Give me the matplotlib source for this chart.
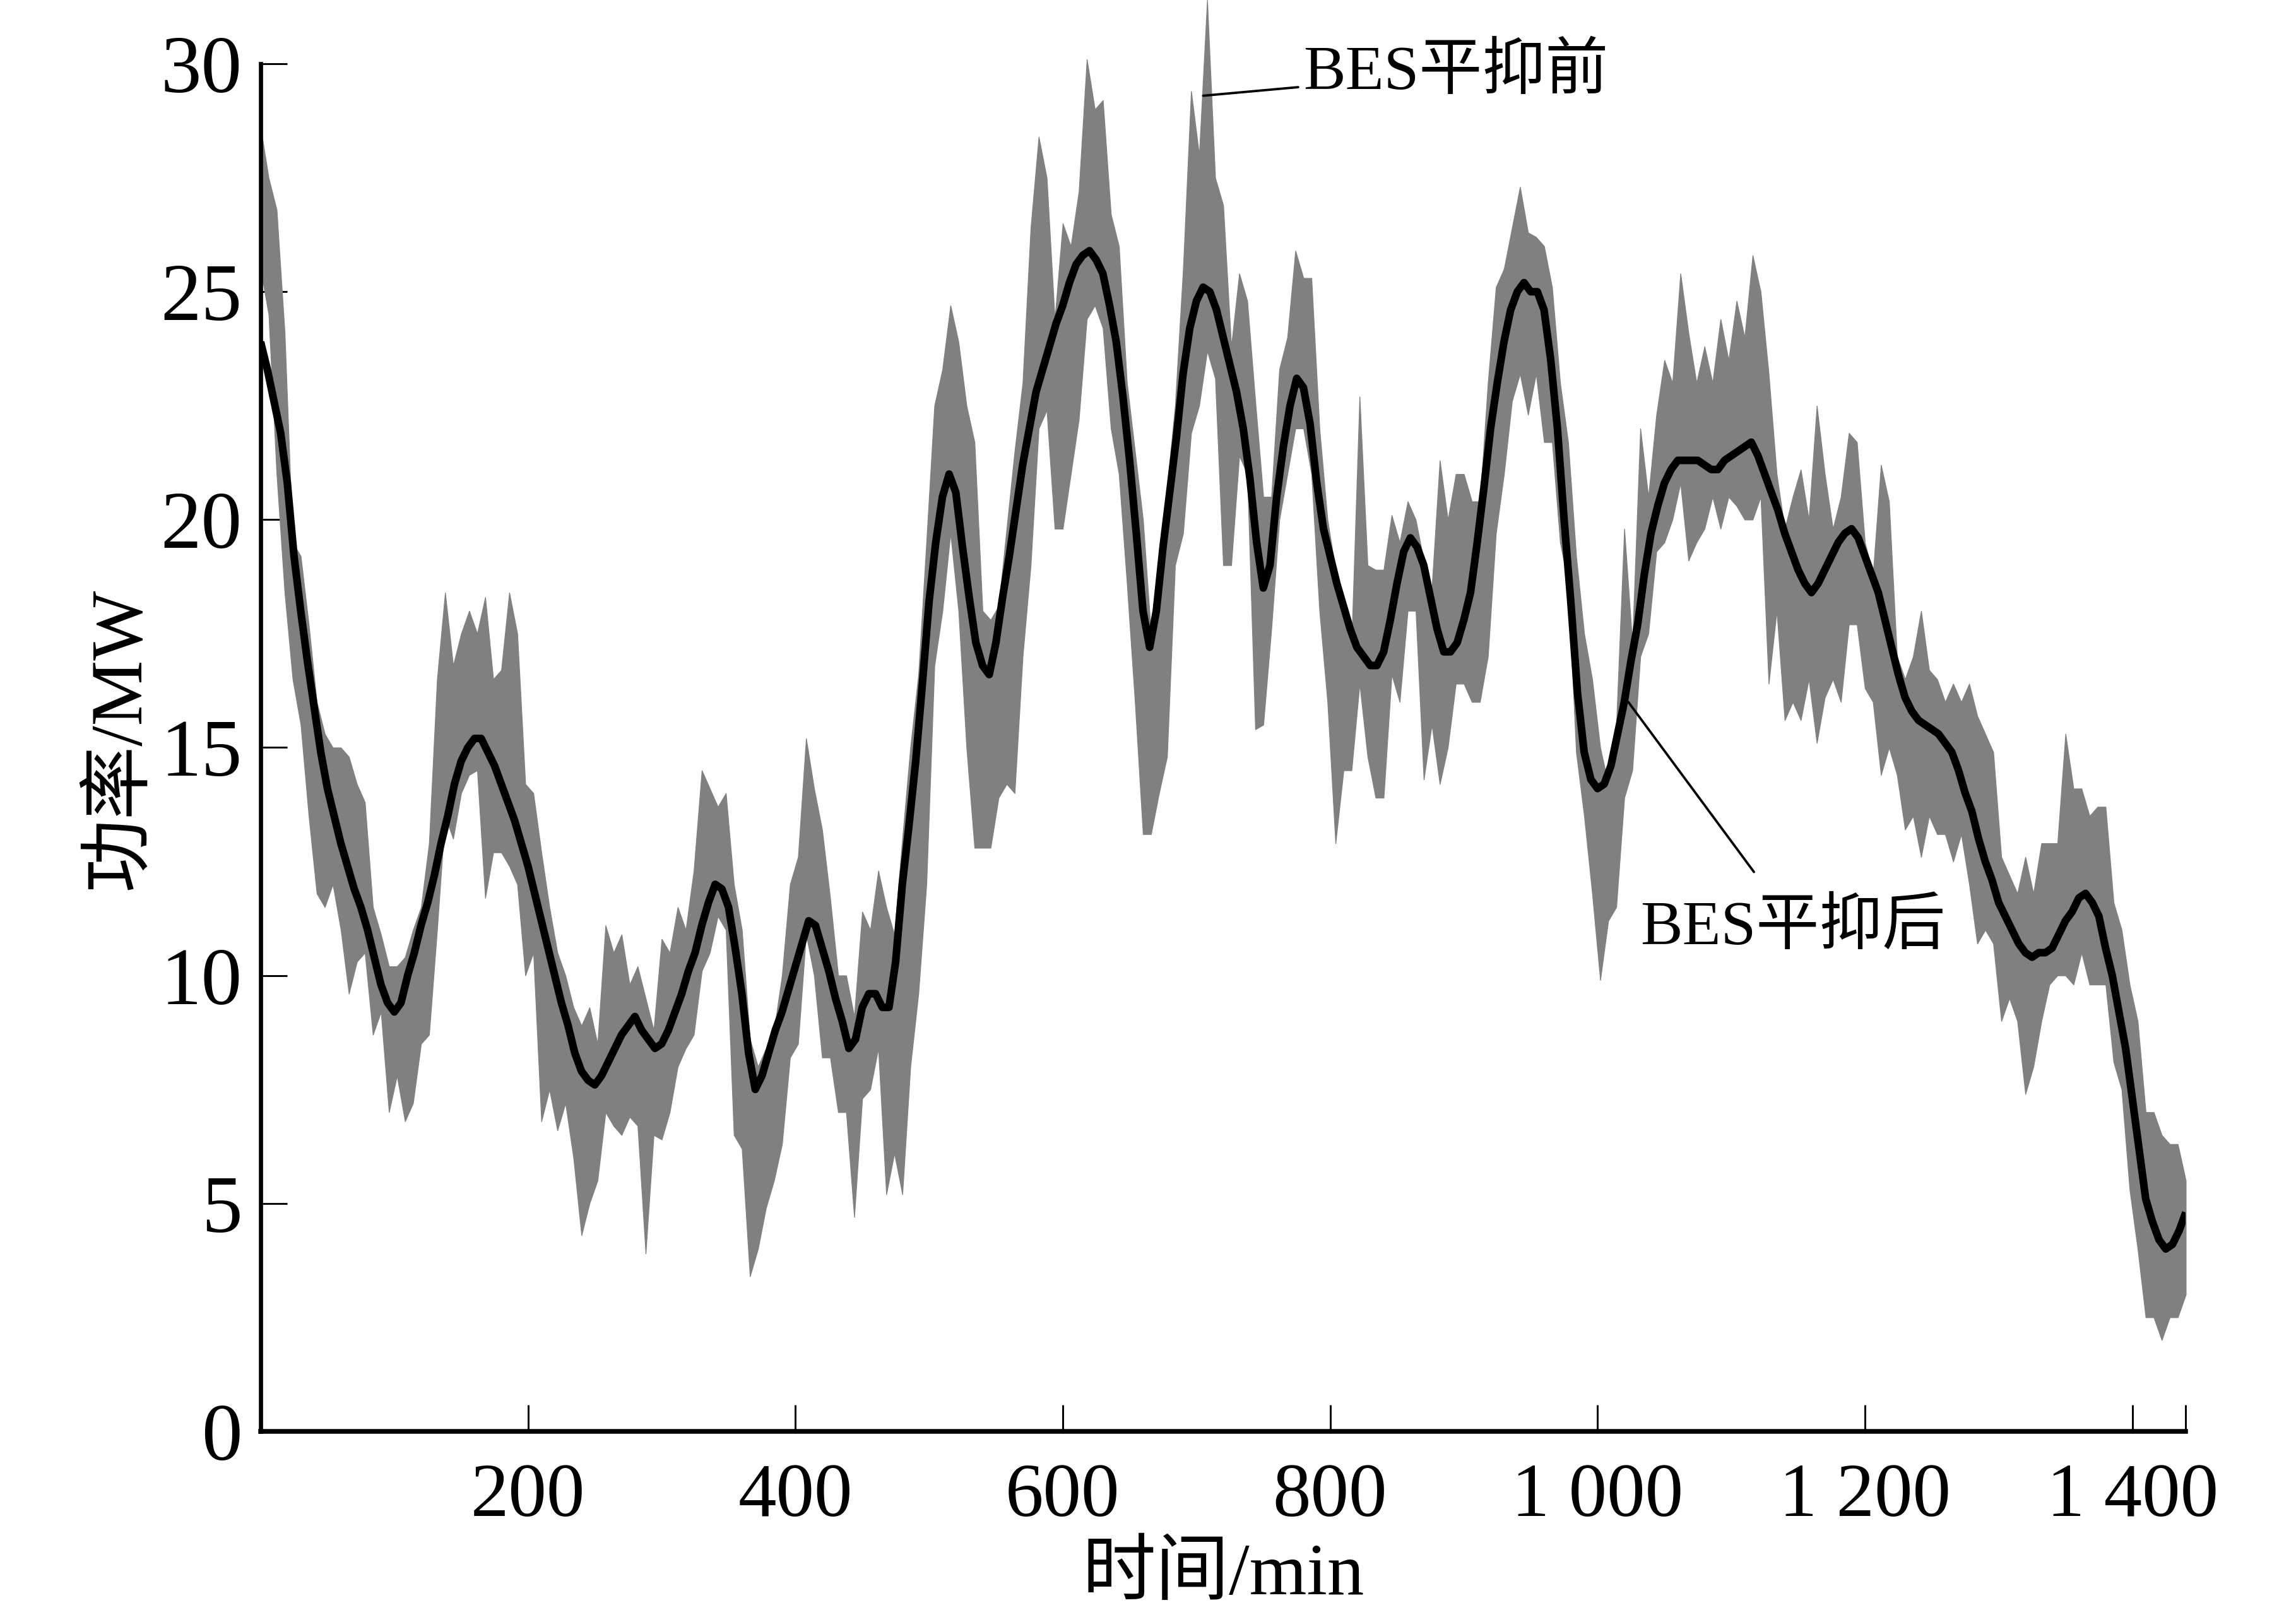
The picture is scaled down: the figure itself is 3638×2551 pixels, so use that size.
import matplotlib
matplotlib.use("Agg")
import matplotlib.pyplot as plt
import numpy as np

plt.rcParams['font.family'] = ['Liberation Serif', 'Noto Sans CJK SC']

# raw power before smoothing: upper / lower edge of the noisy band, every 6 min
raw_upper = [
    28.6, 27.5, 26.8, 24.1, 19.5, 19.2, 17.7, 16.0, 15.3, 15.0,
    15.0, 14.8, 14.2, 13.8, 11.5, 10.9, 10.2, 10.2, 10.4, 11.0,
    11.5, 12.9, 16.5, 18.4, 16.8, 17.5, 18.0, 17.5, 18.3, 16.5,
    16.7, 18.4, 17.5, 14.2, 14.0, 12.7, 11.5, 10.5, 10.0, 9.3,
    8.9, 9.3, 8.5, 11.1, 10.5, 10.9, 9.8, 10.2, 9.5, 8.8,
    10.8, 10.5, 11.5, 11.0, 12.3, 14.5, 14.1, 13.7, 14.0, 12.0,
    11.0, 8.6, 8.0, 8.4, 8.8, 10.0, 12.0, 12.6, 15.2, 14.1,
    13.2, 11.7, 10.0, 10.0, 9.1, 11.4, 11.0, 12.3, 11.5, 10.9,
    13.0, 15.0, 16.6, 19.5, 22.5, 23.3, 24.7, 23.9, 22.5, 21.7,
    18.0, 17.8, 18.1, 19.8, 21.5, 23.0, 26.4, 28.4, 27.5, 24.4,
    26.5, 26.0, 27.2, 30.1, 29.0, 29.2, 26.7, 26.0, 23.0, 21.5,
    20.0, 17.5, 19.0, 20.7, 22.5, 25.5, 29.4, 28.0, 31.4, 27.5,
    26.9, 23.8, 25.4, 24.8, 22.6, 20.5, 20.5, 23.3, 24.0, 25.9,
    25.3, 25.3, 22.0, 20.0, 18.9, 18.2, 17.3, 22.7, 19.0, 18.9,
    18.9, 20.1, 19.5, 20.4, 20.0, 19.1, 18.5, 21.3, 20.0, 21.0,
    21.0, 20.4, 20.4, 23.0, 25.1, 25.5, 26.4, 27.3, 26.3, 26.2,
    26.0, 25.1, 23.0, 21.7, 19.2, 17.5, 16.5, 15.0, 14.2, 15.5,
    19.8, 17.3, 22.0, 20.5, 22.3, 23.5, 23.0, 25.4, 24.1, 23.0,
    23.8, 23.0, 24.4, 23.5, 24.8, 24.0, 25.8, 25.0, 23.2, 21.0,
    19.8, 20.5, 21.1, 20.0, 22.5, 21.0, 19.8, 20.5, 21.9, 21.7,
    19.5, 18.8, 21.2, 20.4, 17.0, 16.5, 17.0, 18.0, 16.7, 16.5,
    16.0, 16.4, 16.0, 16.4, 15.7, 15.3, 14.9, 12.6, 12.2, 11.8,
    12.6, 11.8, 12.9, 12.9, 12.9, 15.3, 14.1, 14.1, 13.5, 13.7,
    13.7, 11.6, 11.0, 9.8, 9.0, 7.0, 7.0, 6.5, 6.3, 6.3, 5.5,
]
raw_lower = [
    25.5, 24.5, 21.0, 18.4, 16.5, 15.5, 13.5, 11.8, 11.5, 12.0,
    11.0, 9.6, 10.3, 10.5, 8.7, 9.2, 7.0, 7.8, 6.8, 7.2,
    8.5, 8.7, 11.0, 13.5, 13.0, 14.0, 14.4, 14.5, 11.7, 12.7,
    12.7, 12.4, 12.0, 10.0, 10.5, 6.8, 7.5, 6.6, 7.2, 6.0,
    4.3, 5.0, 5.5, 7.0, 6.7, 6.5, 6.9, 6.7, 3.9, 6.5,
    6.4, 7.0, 8.0, 8.4, 8.7, 10.1, 10.5, 11.3, 11.0, 6.5,
    6.2, 3.4, 4.0, 4.9, 5.5, 6.3, 8.2, 8.5, 10.9, 10.0,
    8.2, 8.2, 7.0, 7.0, 4.7, 7.3, 7.5, 8.4, 5.2, 6.1,
    5.2, 8.0, 9.6, 12.0, 16.8, 18.0, 19.7, 18.0, 15.0, 12.8,
    12.8, 12.8, 13.9, 14.2, 14.0, 17.0, 19.0, 22.0, 22.4, 19.8,
    19.8, 21.0, 22.2, 24.4, 24.7, 24.2, 22.0, 21.0, 18.6, 16.0,
    13.1, 13.1, 14.0, 14.8, 19.0, 19.7, 21.9, 22.5, 23.7, 23.1,
    19.0, 19.0, 21.4, 21.0, 15.4, 15.5, 17.6, 20.0, 21.0, 22.0,
    22.0, 21.0, 18.0, 16.0, 12.9, 14.5, 14.5, 16.4, 14.8, 13.9,
    13.9, 16.6, 16.0, 18.0, 18.0, 14.3, 15.5, 14.2, 15.0, 16.4,
    16.4, 16.0, 16.0, 17.0, 19.7, 21.0, 22.6, 23.2, 22.3, 23.2,
    21.7, 21.7, 19.5, 18.6, 14.9, 13.5, 11.8, 9.9, 11.2, 11.5,
    13.9, 14.5, 17.0, 17.5, 19.3, 19.5, 20.0, 20.8, 19.1, 19.5,
    19.8, 20.5, 19.8, 20.5, 20.3, 20.0, 20.0, 20.5, 16.4, 18.0,
    15.6, 16.0, 15.6, 16.5, 15.1, 16.1, 16.5, 16.0, 17.7, 17.7,
    16.3, 16.0, 14.4, 15.0, 14.4, 13.2, 13.5, 12.6, 13.5, 13.1,
    13.1, 12.5, 13.1, 12.0, 10.7, 11.0, 10.7, 9.0, 9.5, 9.0,
    7.4, 8.0, 9.0, 9.8, 10.0, 10.0, 9.8, 10.5, 9.8, 9.8,
    9.8, 8.1, 7.5, 5.3, 4.0, 2.5, 2.5, 2.0, 2.5, 2.5, 3.0,
]
# power after BES smoothing, every 5 min
smooth_power = [
    23.9, 23.3, 22.6, 21.9, 20.8, 19.2, 18.0, 16.9, 15.9, 14.9, 14.1, 13.5,
    12.9, 12.4, 11.9, 11.5, 11.0, 10.4, 9.8, 9.4, 9.2, 9.4, 10.0, 10.5,
    11.1, 11.6, 12.2, 12.9, 13.5, 14.2, 14.7, 15.0, 15.2, 15.2, 14.9, 14.6,
    14.2, 13.8, 13.4, 12.9, 12.4, 11.8, 11.2, 10.6, 10.0, 9.4, 8.9, 8.3,
    7.9, 7.7, 7.6, 7.8, 8.1, 8.4, 8.7, 8.9, 9.1, 8.8, 8.6, 8.4,
    8.5, 8.8, 9.2, 9.6, 10.1, 10.5, 11.1, 11.6, 12.0, 11.9, 11.5, 10.6,
    9.6, 8.3, 7.5, 7.8, 8.3, 8.8, 9.2, 9.7, 10.2, 10.7, 11.2, 11.1,
    10.6, 10.1, 9.5, 9.0, 8.4, 8.6, 9.3, 9.6, 9.6, 9.3, 9.3, 10.3,
    12.0, 13.3, 14.7, 16.4, 18.2, 19.5, 20.5, 21.0, 20.6, 19.4, 18.3, 17.3,
    16.8, 16.6, 17.3, 18.3, 19.2, 20.2, 21.2, 22.0, 22.8, 23.3, 23.8, 24.3,
    24.7, 25.2, 25.6, 25.8, 25.9, 25.7, 25.4, 24.7, 23.9, 22.7, 21.3, 19.7,
    18.0, 17.2, 18.0, 19.4, 20.6, 21.8, 23.2, 24.2, 24.8, 25.1, 25.0, 24.6,
    24.0, 23.4, 22.8, 22.0, 20.9, 19.5, 18.5, 19.0, 20.5, 21.6, 22.5, 23.1,
    22.9, 22.1, 20.8, 19.8, 19.2, 18.6, 18.1, 17.6, 17.2, 17.0, 16.8, 16.8,
    17.1, 17.8, 18.6, 19.3, 19.6, 19.4, 19.0, 18.3, 17.6, 17.1, 17.1, 17.3,
    17.8, 18.4, 19.5, 20.7, 22.0, 23.0, 23.9, 24.6, 25.0, 25.2, 25.0, 25.0,
    24.6, 23.5, 22.0, 20.0, 18.2, 16.2, 14.9, 14.3, 14.1, 14.2, 14.6, 15.3,
    16.0, 16.9, 17.7, 18.8, 19.7, 20.3, 20.8, 21.1, 21.3, 21.3, 21.3, 21.3,
    21.2, 21.1, 21.1, 21.3, 21.4, 21.5, 21.6, 21.7, 21.4, 21.0, 20.6, 20.2,
    19.7, 19.3, 18.9, 18.6, 18.4, 18.6, 18.9, 19.2, 19.5, 19.7, 19.8, 19.6,
    19.2, 18.8, 18.4, 17.8, 17.2, 16.6, 16.1, 15.8, 15.6, 15.5, 15.4, 15.3,
    15.1, 14.9, 14.5, 14.0, 13.6, 13.0, 12.5, 12.1, 11.6, 11.3, 11.0, 10.7,
    10.5, 10.4, 10.5, 10.5, 10.6, 10.9, 11.2, 11.4, 11.7, 11.8, 11.6, 11.3,
    10.6, 10.0, 9.2, 8.4, 7.3, 6.2, 5.1, 4.6, 4.2, 4.0, 4.1, 4.4,
    4.8,
]
raw_minutes = np.arange(0, 1441, 6)
smooth_minutes = np.arange(0, 1441, 5)

x_ticks = [200, 400, 600, 800, 1000, 1200, 1400]
x_tick_labels = ['200', '400', '600', '800', '1 000', '1 200', '1 400']
y_ticks = [0, 5, 10, 15, 20, 25, 30]

fig = plt.figure(figsize=(3638 / 300, 2551 / 300), dpi=300)
ax = fig.add_axes([0.1135, 0.111, 0.8385, 0.889])

ax.fill_between(raw_minutes, raw_lower, raw_upper, color='#808080', lw=0.3,
                edgecolor='#808080', clip_on=False, zorder=2)
ax.plot(smooth_minutes, smooth_power, color='black', lw=2.9, zorder=3,
        solid_capstyle='butt')

ax.set_xlim(0, 1440)
ax.set_ylim(0, 31.4)
ax.spines['top'].set_visible(False)
ax.spines['right'].set_visible(False)
ax.spines['left'].set_bounds(0, 30)
ax.spines['left'].set_linewidth(1.6)
ax.spines['bottom'].set_linewidth(1.8)

ax.set_xticks(x_ticks)
ax.set_xticklabels(x_tick_labels)
ax.set_xticks([1440], minor=True)
ax.set_yticks(y_ticks)
ax.tick_params(axis='both', which='both', direction='in', length=10, width=0.7,
               labelsize=29)
ax.tick_params(axis='x', pad=12)
ax.tick_params(axis='y', pad=7, labelsize=31)

ax.set_xlabel('时间/min', fontsize=28)
ax.set_ylabel('功率/MW', fontsize=28)
ax.xaxis.set_label_coords(0.5, -0.078)
ax.yaxis.set_label_coords(-0.055, 0.484)

ax.annotate('BES平抑前', xy=(705, 29.3), xytext=(780, 29.8), fontsize=24,
            ha='left', va='center', annotation_clip=False,
            arrowprops=dict(arrowstyle='-', lw=0.9, color='black',
                            shrinkA=0, shrinkB=0))
ax.annotate('', xy=(1023, 16.0), xytext=(1117, 12.27),
            arrowprops=dict(arrowstyle='-', lw=0.9, color='black',
                            shrinkA=0, shrinkB=0))
ax.text(1032, 11.04, 'BES平抑后', fontsize=24, ha='left', va='center')

fig.savefig('out.png', dpi=300)
